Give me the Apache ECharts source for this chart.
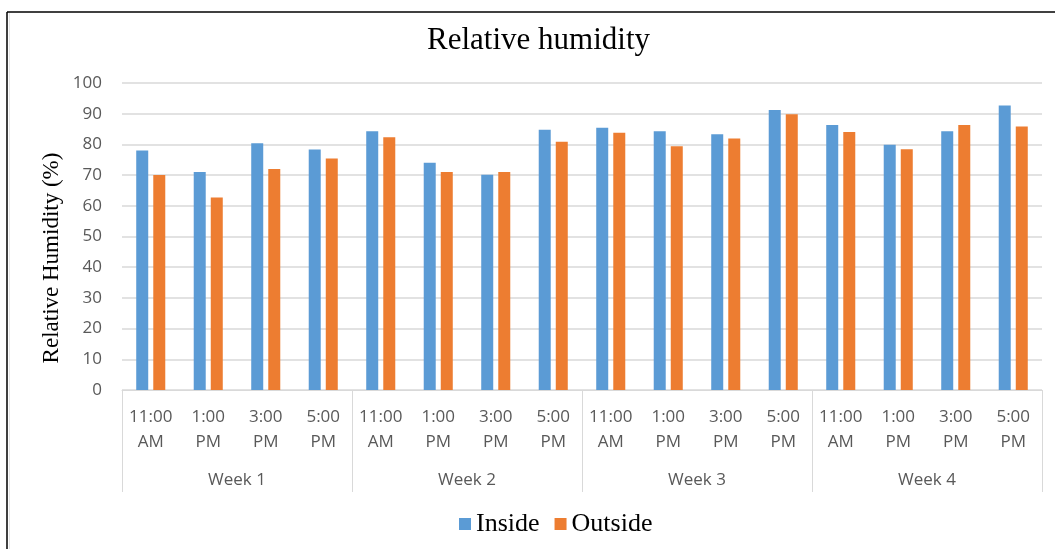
<!DOCTYPE html>
<html>
<head>
<meta charset="utf-8">
<script src="https://cdn.jsdelivr.net/npm/echarts@6/dist/echarts.min.js"></script>
<style>
  html, body { margin: 0; padding: 0; background: #fff; }
  #chart { width: 1055px; height: 549px; }
</style>
</head>
<body>
<div id="chart"></div>
<script>
// Time-of-day slots, repeated for each week
const times = [
  '11:00\nAM', '1:00\nPM', '3:00\nPM', '5:00\nPM',
  '11:00\nAM', '1:00\nPM', '3:00\nPM', '5:00\nPM',
  '11:00\nAM', '1:00\nPM', '3:00\nPM', '5:00\nPM',
  '11:00\nAM', '1:00\nPM', '3:00\nPM', '5:00\nPM'
];
const weeks = ['Week 1', 'Week 2', 'Week 3', 'Week 4'];

// Relative humidity readings (%)
const inside  = [78.0, 71.0, 80.4, 78.3, 84.3, 74.0, 70.1, 84.8, 85.4, 84.3, 83.3, 91.2, 86.3, 79.9, 84.3, 92.7];
const outside = [70.0, 62.7, 72.0, 75.4, 82.3, 71.0, 71.0, 80.9, 83.8, 79.4, 81.9, 89.8, 84.0, 78.4, 86.3, 85.8];

const yTicks = { min: 0, max: 100, interval: 10 };

const serif = '"Liberation Serif", "Times New Roman", serif';
const sans = '"Open Sans", "Liberation Sans", sans-serif';
const grey = '#D9D9D9';

const chart = echarts.init(document.getElementById('chart'));
chart.setOption({
  backgroundColor: '#fff',
  animation: false,
  title: {
    text: 'Relative humidity',
    left: 422,
    top: 20,
    textStyle: { fontFamily: serif, fontSize: 31, fontWeight: 'normal', color: '#000' }
  },
  legend: {
    data: ['Inside', 'Outside'],
    bottom: 7,
    left: 454,
    icon: 'rect',
    itemWidth: 12,
    itemHeight: 12,
    itemGap: 15,
    textStyle: { fontFamily: serif, fontSize: 26, color: '#000' }
  },
  grid: { left: 122, right: 13, top: 83, bottom: 159, containLabel: false },
  xAxis: [
    {
      type: 'category',
      data: times,
      position: 'bottom',
      axisLine: { show: true, lineStyle: { color: grey, width: 1 } },
      axisTick: { show: false },
      axisLabel: {
        interval: 0,
        margin: 15,
        fontFamily: sans,
        fontSize: 17,
        lineHeight: 25,
        color: '#595959'
      }
    },
    {
      type: 'category',
      data: weeks,
      position: 'bottom',
      axisLine: { show: false },
      axisTick: { show: true, length: 102, interval: 0, lineStyle: { color: grey, width: 1 } },
      axisLabel: {
        interval: 0,
        margin: 82,
        fontFamily: sans,
        fontSize: 17,
        color: '#595959'
      }
    }
  ],
  yAxis: {
    type: 'value',
    min: yTicks.min,
    max: yTicks.max,
    interval: yTicks.interval,
    axisLine: { show: false },
    axisTick: { show: false },
    axisLabel: { margin: 20, fontFamily: sans, fontSize: 17, color: '#595959' },
    splitLine: { lineStyle: { color: grey, width: 1.5 } }
  },
  series: [
    {
      name: 'Inside',
      type: 'bar',
      xAxisIndex: 0,
      data: inside,
      barWidth: 12,
      barGap: '42%',
      itemStyle: { color: '#5B9BD5' }
    },
    {
      name: 'Outside',
      type: 'bar',
      xAxisIndex: 0,
      data: outside,
      barWidth: 12,
      barGap: '42%',
      itemStyle: { color: '#ED7D31' }
    }
  ],
  graphic: [
    // value-axis title, rotated
    {
      type: 'text',
      x: 52,
      y: 258,
      rotation: Math.PI / 2,
      style: {
        text: 'Relative Humidity (%)',
        fontFamily: serif,
        fontSize: 23,
        fill: '#000',
        align: 'center',
        verticalAlign: 'middle'
      }
    },
    // chart frame
    { type: 'line', shape: { x1: 7, y1: 12, x2: 1055, y2: 12 }, style: { stroke: '#000', lineWidth: 1.5 } },
    { type: 'line', shape: { x1: 7, y1: 12, x2: 7, y2: 549 }, style: { stroke: '#000', lineWidth: 1.5 } },
    { type: 'line', shape: { x1: 9.5, y1: 13, x2: 9.5, y2: 549 }, style: { stroke: '#E6E6E6', lineWidth: 1 } }
  ]
});
</script>
</body>
</html>
